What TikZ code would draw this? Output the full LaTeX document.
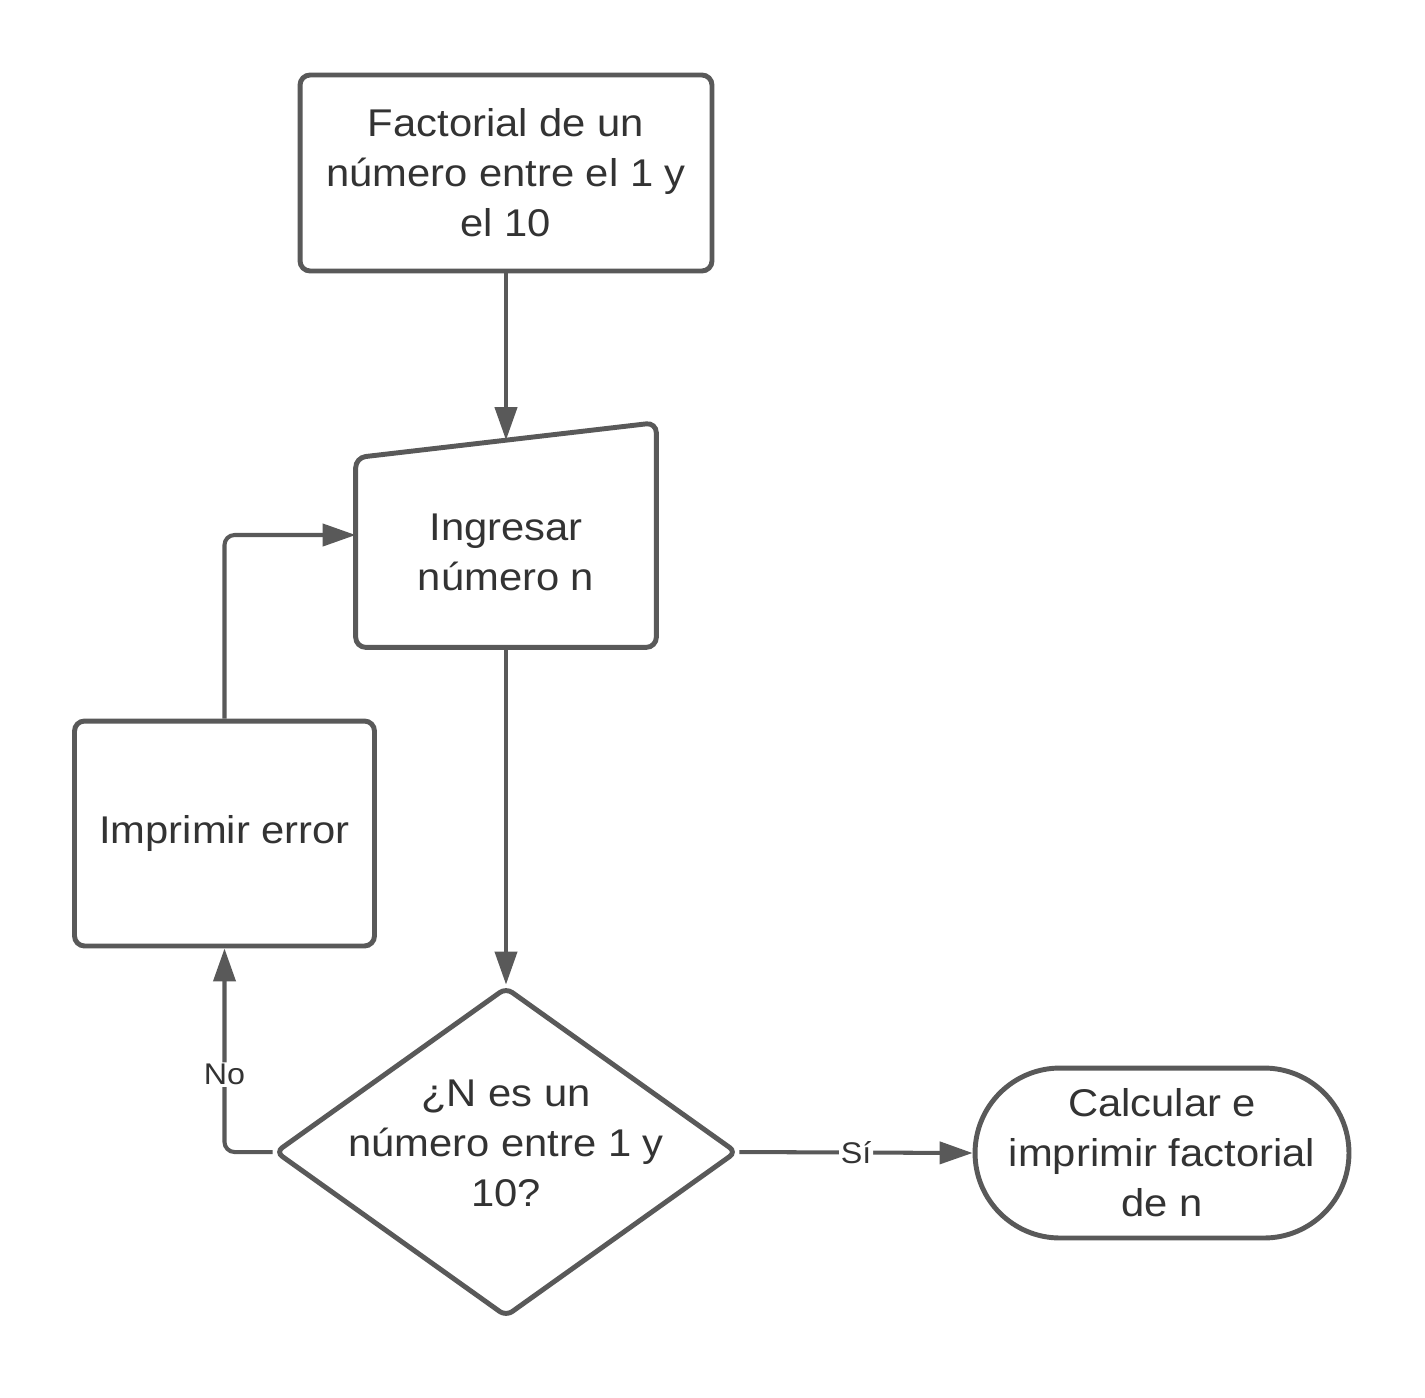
\documentclass[tikz,border=0pt]{standalone}
\usepackage{fontspec}
\setmainfont{Liberation Sans}[FakeStretch=1.08]
\usepackage{tikz}
\usetikzlibrary{shapes.geometric}
\usetikzlibrary{arrows.meta}
\definecolor{linegray}{HTML}{595959}
\definecolor{textgray}{HTML}{333333}

\begin{document}
\begin{tikzpicture}[x=0.02cm, y=-0.02cm,
        boxnode/.style={rectangle, rounded corners=0.2cm, draw=linegray, line width=2.8pt, align=center, text=textgray, font=\fontsize{22}{28.5}\selectfont},
        decisionnode/.style={diamond, rounded corners=0.15cm, draw=linegray, line width=2.8pt, inner sep=0pt},
        textnode/.style={align=center, text=textgray, font=\fontsize{22}{28.5}\selectfont},
        labelnode/.style={fill=white, inner sep=1pt, text=textgray, font=\fontsize{17}{20}\selectfont},
        arrowline/.style={-{Triangle[length=0.66cm, width=0.44cm]}, draw=linegray, line width=2.3pt, rounded corners=0.2cm}]
        \fill[white] (0,0) rectangle (1425,1397);
        \useasboundingbox (0,0) rectangle (1425,1397);

        \node[boxnode, minimum width=8.24cm, minimum height=3.92cm] (node1) at (506,173) {Factorial de un\\número entre el 1 y\\el 10};
        \node[textnode, minimum width=6cm, minimum height=3.78cm] (node2) at (506,552.5) {Ingresar\\número n};
        \node[decisionnode, minimum width=9.24cm, minimum height=6.6cm] (node3) at (506,1152) {};
        \node[textnode] (node3text) at ([yshift=0.18cm]node3.center) {¿N es un\\número entre 1 y\\10?};
        \node[boxnode, minimum width=6cm, minimum height=4.5cm] (node4) at (224.5,833.5) {Imprimir error};
        \node[boxnode, rounded corners=1.7cm, minimum width=7.48cm, minimum height=3.4cm] (node5) at (1162,1153) {Calcular e\\imprimir factorial\\de n};

        % manual input outline
        \draw[linegray, line width=2.8pt, rounded corners=0.2cm] (node2.south west) -- (node2.north west) -- ([yshift=0.7cm]node2.north east) -- (node2.south east) -- cycle;

        \draw[arrowline] (node1) -- ([yshift=0.35cm]node2.north);
        \draw[arrowline] (node2) -- (node3.north);
        \draw[arrowline] (node3.west) -| node[labelnode, pos=0.69] {No} (node4.south);
        \draw[arrowline] (node4.north) |- ([yshift=0.35cm]node2.west);
        \draw[arrowline] (node3.east) -- node[labelnode] {Sí} (node5.west);
    \end{tikzpicture}
\end{document}
